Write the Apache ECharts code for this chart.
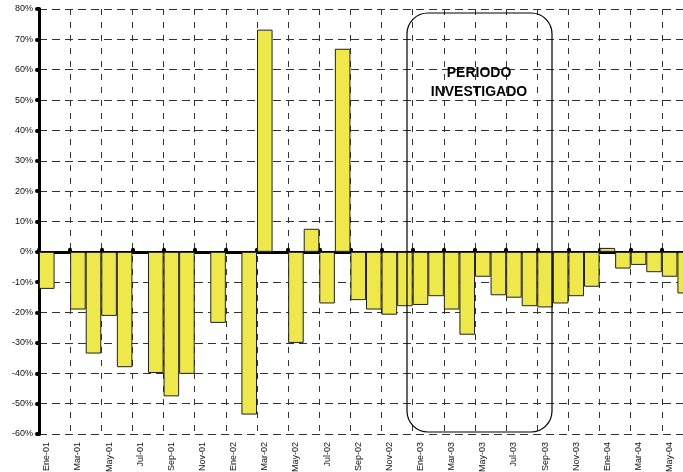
<!DOCTYPE html>
<html>
<head>
<meta charset="utf-8">
<script src="https://cdn.jsdelivr.net/npm/echarts@6/dist/echarts.min.js"></script>
<style>
  html, body { margin: 0; padding: 0; background: #fff; }
  #chart { width: 683px; height: 472px; }
</style>
</head>
<body>
<div id="chart"></div>
<script>
const months = ['Ene', 'Feb', 'Mar', 'Abr', 'May', 'Jun', 'Jul', 'Ago', 'Sep', 'Oct', 'Nov', 'Dic']
const years = ['01', '02', '03', '04']
const categories = []
years.forEach(y => months.forEach(m => categories.push(m + '-' + y)))
categories.length = 42 // Ene-01 .. Jun-04

// variación mensual (%), null = sin dato
const variacion = [
  -12.2, null, -19.0, -33.5, -21.1, -38.0, null, -39.9, -47.6, -40.2, null, -23.4,
  null, -53.6, 73.2, null, -30.0, 7.6, -17.0, 66.9, -15.9, -19.0, -20.7, -17.9,
  -17.5, -14.6, -19.0, -27.3, -8.2, -14.3, -15.1, -17.9, -18.3, -17.0, -14.6, -11.5,
  1.3, -5.5, -4.3, -6.7, -8.2, -13.7
]

const yTicks = { min: -60, max: 80, interval: 10 }

const chart = echarts.init(document.getElementById('chart'))

const dashedV = { color: '#333', width: 1, type: [6, 7] }
const dashedH = { color: '#333', width: 1, type: [8, 5] }

chart.setOption({
  animation: false,
  backgroundColor: '#fff',
  textStyle: { fontFamily: 'Liberation Sans, Arial, sans-serif' },
  grid: { left: 39, right: -10, top: 9, bottom: 38, containLabel: false, outerBoundsMode: 'none' },
  xAxis: [
    {
      type: 'category',
      data: categories,
      position: 'bottom',
      axisLine: { show: false, onZero: false },
      axisTick: { show: false },
      splitLine: { show: true, interval: 1, lineStyle: dashedV },
      axisLabel: {
        interval: 1,
        rotate: 90,
        margin: 8,
        fontSize: 9,
        color: '#111'
      }
    },
    {
      type: 'category',
      data: categories,
      axisLine: { show: true, onZero: true, lineStyle: { color: '#000', width: 3 } },
      axisTick: { show: true, interval: 1, inside: false, length: 2, lineStyle: { color: '#000', width: 4, cap: 'round' } },
      axisLabel: { show: false },
      splitLine: { show: false }
    }
  ],
  yAxis: {
    type: 'value',
    min: yTicks.min,
    max: yTicks.max,
    interval: yTicks.interval,
    axisLine: { show: true, lineStyle: { color: '#000', width: 3 } },
    axisTick: { show: true, length: 2, lineStyle: { color: '#000', width: 4, cap: 'round' } },
    splitLine: { show: true, lineStyle: dashedH },
    axisLabel: {
      margin: 6,
      fontSize: 9,
      color: '#111',
      formatter: v => v + '%'
    }
  },
  series: [
    {
      type: 'bar',
      xAxisIndex: 0,
      data: variacion,
      barCategoryGap: '0%',
      itemStyle: { color: '#EEE84A', borderColor: '#222', borderWidth: 1 },
      z: 2
    }
  ],
  graphic: [
    {
      type: 'rect',
      shape: { x: 407, y: 13, width: 145, height: 419, r: 21 },
      style: { fill: 'none', stroke: '#000', lineWidth: 1.2 },
      z: 10
    },
    {
      type: 'text',
      x: 479, y: 83,
      style: {
        text: 'PERIODO\nINVESTIGADO',
        fill: '#000',
        font: 'bold 14px Liberation Sans, Arial, sans-serif',
        align: 'center',
        verticalAlign: 'middle',
        lineHeight: 19
      },
      z: 10
    }
  ]
})
</script>
</body>
</html>
